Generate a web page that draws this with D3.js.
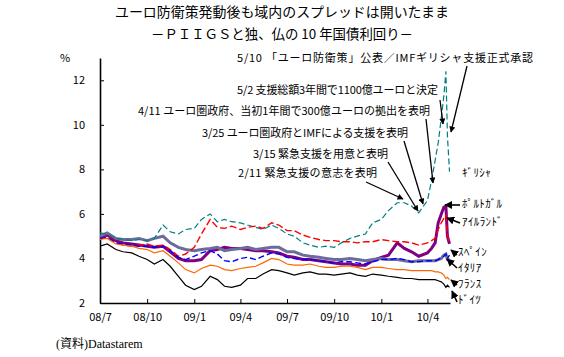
<!DOCTYPE html>
<html><head><meta charset="utf-8">
<script src="https://cdn.jsdelivr.net/npm/d3@7"></script>
<style>body{margin:0;background:#fff} svg{display:block}</style>
</head><body>
<svg id="chart" width="564" height="357"></svg>
<script>
// ---------- data ----------
const dates = ["2008-07-01","2008-07-15","2008-08-01","2008-08-15","2008-09-01","2008-09-15","2008-10-01","2008-10-15","2008-11-01","2008-11-15","2008-12-01","2008-12-15",
"2009-01-01","2009-01-15","2009-02-01","2009-02-15","2009-03-01","2009-03-15","2009-04-01","2009-04-15","2009-05-01","2009-05-15","2009-06-01","2009-06-15","2009-07-01","2009-07-15","2009-08-01","2009-08-15","2009-09-01","2009-09-15","2009-10-01","2009-10-15","2009-11-01","2009-11-15","2009-12-01","2009-12-15",
"2010-01-01","2010-01-15","2010-02-01","2010-02-15","2010-03-01","2010-03-15","2010-04-01","2010-04-09","2010-04-16","2010-04-22","2010-04-28","2010-05-03","2010-05-07","2010-05-10","2010-05-14"];

const greece = [5.15,5.1,4.9,4.85,4.8,4.85,4.8,4.9,5.5,5.2,5.1,5.3,
 5.35,5.75,6.0,5.65,5.75,5.65,5.6,5.5,5.4,5.3,5.5,5.35,5.1,5.0,4.7,4.6,4.5,4.55,4.5,4.7,4.9,5.0,5.1,5.6,
 5.75,6.15,6.5,6.5,6.35,6.05,6.6,7.5,8.4,9.2,10.3,11.3,12.4,9.5,7.9];
const ireland = [4.85,5.0,4.7,4.6,4.55,4.6,4.65,4.55,4.6,4.4,4.1,4.2,
 4.5,5.1,5.75,5.4,5.35,5.45,5.3,5.4,5.45,5.35,5.6,5.5,5.25,5.25,5.05,4.95,4.85,4.8,4.8,4.75,4.75,4.7,4.75,4.75,
 4.85,4.8,4.75,4.75,4.7,4.6,4.7,4.8,4.9,5.3,5.6,5.8,5.95,5.0,4.75];
const portugal = [4.95,5.05,4.8,4.7,4.65,4.6,4.55,4.5,4.55,4.3,4.0,3.9,
 3.9,3.95,4.35,4.4,4.5,4.45,4.45,4.4,4.35,4.35,4.3,4.25,4.1,4.05,3.95,3.95,3.9,3.85,3.8,3.75,3.75,3.7,3.7,3.9,
 4.05,4.15,4.7,4.45,4.3,4.1,4.25,4.45,4.7,5.6,6.0,6.3,6.35,5.0,4.65];
const spain = [4.9,4.95,4.7,4.65,4.6,4.55,4.55,4.5,4.55,4.35,4.05,3.95,
 4.1,4.25,4.35,4.2,3.9,3.85,4.0,4.05,3.95,4.1,4.25,4.2,4.05,4.0,3.95,3.95,3.9,3.85,3.8,3.85,3.85,3.8,3.75,3.85,
 3.95,3.95,4.0,3.95,3.85,3.85,3.9,3.9,3.9,3.95,4.05,4.1,4.2,4.0,4.15];
const italy = [5.0,5.15,4.9,4.85,4.85,4.9,4.8,4.9,5.0,4.7,4.5,4.4,
 4.35,4.4,4.45,4.5,4.35,4.4,4.45,4.5,4.4,4.45,4.5,4.5,4.3,4.3,4.15,4.1,4.05,4.0,3.95,3.95,4.0,3.95,3.9,3.95,
 4.0,3.95,3.95,3.9,3.85,3.9,3.9,3.9,3.9,3.95,4.0,4.15,4.2,3.95,3.95];
const france = [4.85,4.9,4.65,4.6,4.55,4.45,4.4,4.25,4.35,4.1,3.8,3.5,
 3.35,3.55,3.7,3.65,3.5,3.45,3.55,3.6,3.65,3.8,4.0,3.95,3.75,3.7,3.7,3.75,3.65,3.6,3.6,3.65,3.65,3.6,3.5,3.6,
 3.6,3.55,3.5,3.5,3.45,3.45,3.45,3.45,3.4,3.4,3.35,3.25,3.1,3.15,3.05];
const germany = [4.55,4.65,4.4,4.3,4.25,4.1,3.95,3.75,3.95,3.65,3.2,2.8,
 2.6,2.75,3.2,3.05,2.75,2.7,2.8,3.1,3.1,3.3,3.5,3.45,3.35,3.25,3.35,3.4,3.3,3.3,3.25,3.3,3.35,3.25,3.2,3.3,
 3.25,3.2,3.15,3.1,3.1,3.05,3.05,3.05,3.05,3.0,2.95,2.85,2.7,2.8,2.7];

const seriesNames = ["ｷﾞﾘｼｬ","ﾎﾟﾙﾄｶﾞﾙ","ｱｲﾙﾗﾝﾄﾞ","ｽﾍﾟｲﾝ","ｲﾀﾘｱ","ﾌﾗﾝｽ","ﾄﾞｲﾂ"];
const xTickDates = ["2008-07-01","2008-10-01","2009-01-01","2009-04-01","2009-07-01","2009-10-01","2010-01-01","2010-04-01"];
const xTickLabels = ["08/7","08/10","09/1","09/4","09/7","09/10","10/1","10/4"];
const yTickValues = [2,4,6,8,10,12];
const titleLines = ["ユーロ防衛策発動後も域内のスプレッドは開いたまま","－ＰＩＩＧＳと独、仏の 10 年国債利回り－"];
const eventTexts = ["5/10 「ユーロ防衛策」公表／IMFギリシャ支援正式承認",
  "5/2  支援総額3年間で1100億ユーロと決定",
  "4/11  ユーロ圏政府、当初1年間で300億ユーロの拠出を表明",
  "3/25  ユーロ圏政府とIMFによる支援を表明",
  "3/15  緊急支援を用意と表明",
  "2/11  緊急支援の意志を表明"];
const sourceText = "(資料)Datastarem";
const unitText = "%";

// ---------- layout / style ----------
const FONT = "'Noto Sans CJK JP', sans-serif";
const parse = d3.timeParse("%Y-%m-%d");
const svg = d3.select("#chart");
const x = d3.scaleTime().domain([parse("2008-07-01"), parse("2010-05-15")]).range([100, 450]);
const y = d3.scaleLinear().domain([2, 13]).range([303, 58]);

const styles = {
  "ｷﾞﾘｼｬ":   {color:"#008080", width:1.2, dash:"6,3"},
  "ﾎﾟﾙﾄｶﾞﾙ": {color:"#800080", width:3,   dash:null},
  "ｱｲﾙﾗﾝﾄﾞ": {color:"#ff0000", width:1.4, dash:"7,3"},
  "ｽﾍﾟｲﾝ":   {color:"#0000ff", width:1.4, dash:"6,3"},
  "ｲﾀﾘｱ":    {color:"#6b6b9e", width:3,   dash:null},
  "ﾌﾗﾝｽ":    {color:"#ff6600", width:1.2, dash:null},
  "ﾄﾞｲﾂ":    {color:"#000000", width:1.2, dash:null}
};
const valuesByName = {"ｷﾞﾘｼｬ":greece,"ﾎﾟﾙﾄｶﾞﾙ":portugal,"ｱｲﾙﾗﾝﾄﾞ":ireland,"ｽﾍﾟｲﾝ":spain,"ｲﾀﾘｱ":italy,"ﾌﾗﾝｽ":france,"ﾄﾞｲﾂ":germany};
const drawOrder = ["ﾎﾟﾙﾄｶﾞﾙ","ｲﾀﾘｱ","ｷﾞﾘｼｬ","ｱｲﾙﾗﾝﾄﾞ","ｽﾍﾟｲﾝ","ﾌﾗﾝｽ","ﾄﾞｲﾂ"];

// markers
const defs = svg.append("defs");
defs.append("clipPath").attr("id","plotclip").append("rect")
  .attr("x",100).attr("y",56).attr("width",352).attr("height",248);
defs.append("marker").attr("id","ah").attr("viewBox","0 0 10 10")
  .attr("refX",9).attr("refY",5).attr("markerWidth",7).attr("markerHeight",6)
  .attr("markerUnits","userSpaceOnUse").attr("orient","auto")
  .append("path").attr("d","M0,0L10,5L0,10z").attr("fill","#000");
defs.append("marker").attr("id","ah2").attr("viewBox","0 0 10 10")
  .attr("refX",9).attr("refY",5).attr("markerWidth",8).attr("markerHeight",8)
  .attr("markerUnits","userSpaceOnUse").attr("orient","auto")
  .append("path").attr("d","M0,0L10,5L0,10z").attr("fill","#000");

// title
svg.append("g").selectAll("text").data(titleLines).join("text")
  .attr("x",282).attr("y",(d,i)=> i===0 ? 17 : 39)
  .attr("text-anchor","middle").attr("font-family",FONT).attr("font-size",13.5)
  .attr("textLength",(d,i)=> i===0 ? 334 : 262).attr("lengthAdjust","spacingAndGlyphs")
  .attr("fill","#000").text(d=>d);

// axes
const xAxis = d3.axisBottom(x).tickValues(xTickDates.map(parse))
  .tickFormat((d,i)=>xTickLabels[i]).tickSizeInner(-4).tickSizeOuter(0).tickPadding(10);
const gx = svg.append("g").attr("transform","translate(0,303)").call(xAxis);
const yAxis = d3.axisLeft(y).tickValues(yTickValues).tickSizeInner(-4).tickSizeOuter(0).tickPadding(15);
const gy = svg.append("g").attr("transform","translate(100,0)").call(yAxis);
[gx,gy].forEach(g=>{
  g.select(".domain").attr("stroke","#000").attr("stroke-width",1.6);
  g.selectAll(".tick line").attr("stroke","#000").attr("stroke-width",1);
  g.selectAll("text").attr("font-family",FONT).attr("font-size",11).attr("fill","#000");
});
svg.append("text").attr("x",60).attr("y",62).attr("font-family",FONT).attr("font-size",11).text(unitText);

// lines
const line = d3.line().x(d=>x(d.date)).y(d=>y(d.v));
const plot = svg.append("g").attr("clip-path","url(#plotclip)");
drawOrder.forEach(name=>{
  const vals = valuesByName[name];
  const pts = dates.map((d,i)=>({date:parse(d), v:vals[i]}));
  const st = styles[name];
  plot.append("path").datum(pts).attr("d",line).attr("fill","none")
    .attr("stroke",st.color).attr("stroke-width",st.width)
    .attr("stroke-linejoin","miter")
    .attr("stroke-dasharray",st.dash);
});

// event annotations
const eventLayout = [
  {tx:237, ty:62,  w:296, from:[467,66],  to:[451,132]},
  {tx:237, ty:94,  w:201, from:[440,100], to:[443,124]},
  {tx:138, ty:115, w:292, from:[426,119], to:[433,183]},
  {tx:202, ty:137, w:206, from:[404,141], to:[423,204]},
  {tx:253, ty:158, w:135, from:[388,162], to:[418,211]},
  {tx:238, ty:177, w:139, from:[366,182], to:[403,199]}
];
const ev = svg.append("g");
ev.selectAll("text").data(eventTexts).join("text")
  .attr("x",(d,i)=>eventLayout[i].tx).attr("y",(d,i)=>eventLayout[i].ty)
  .attr("font-family",FONT).attr("font-size",11)
  .attr("textLength",(d,i)=>eventLayout[i].w).attr("lengthAdjust","spacing")
  .attr("fill","#000").text(d=>d);
ev.selectAll("line").data(eventLayout).join("line")
  .attr("x1",d=>d.from[0]).attr("y1",d=>d.from[1])
  .attr("x2",d=>d.to[0]).attr("y2",d=>d.to[1])
  .attr("stroke","#000").attr("stroke-width",1.3).attr("marker-end","url(#ah)");

// series labels
const labelLayout = {
  "ｷﾞﾘｼｬ":   {lx:462, ly:177, arrow:null},
  "ﾎﾟﾙﾄｶﾞﾙ": {lx:462, ly:208, arrow:[[460,205],[445,205]]},
  "ｱｲﾙﾗﾝﾄﾞ": {lx:462, ly:226, arrow:[[460,223],[447,218]]},
  "ｽﾍﾟｲﾝ":   {lx:458, ly:256, arrow:[[457,255],[451,250]]},
  "ｲﾀﾘｱ":    {lx:458, ly:272, arrow:[[457,268],[447,259]]},
  "ﾌﾗﾝｽ":    {lx:458, ly:288, arrow:[[457,285],[451,280]]},
  "ﾄﾞｲﾂ":    {lx:458, ly:304, arrow:[[457,302],[452,291]]}
};
const lg = svg.append("g");
seriesNames.forEach(name=>{
  const L = labelLayout[name];
  lg.append("text").attr("x",L.lx).attr("y",L.ly).attr("font-family",FONT)
    .attr("font-size",11).attr("letter-spacing",0.4).attr("fill","#000").text(name);
  if (L.arrow) {
    lg.append("line").attr("x1",L.arrow[0][0]).attr("y1",L.arrow[0][1])
      .attr("x2",L.arrow[1][0]).attr("y2",L.arrow[1][1])
      .attr("stroke","#000").attr("stroke-width",1.6).attr("marker-end","url(#ah2)");
  }
});

// source
svg.append("text").attr("x",56).attr("y",348)
  .attr("font-family","'Liberation Serif', 'Noto Sans CJK JP', serif").attr("font-size",12)
  .attr("fill","#000").text(sourceText);
</script>
</body></html>
